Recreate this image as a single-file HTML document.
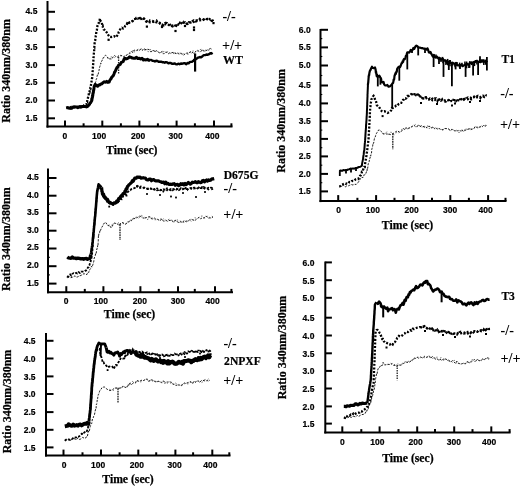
<!DOCTYPE html>
<html><head><meta charset="utf-8"><title>Ratio 340nm/380nm</title><style>
html,body{margin:0;padding:0;background:#fff;}
body{width:520px;height:486px;overflow:hidden;}
svg{display:block;}
svg{will-change:transform;}
.tk{font-family:"Liberation Sans", sans-serif;font-weight:bold;font-size:8.5px;fill:#000;stroke:#000;stroke-width:0.2px;}
.tt{font-family:"Liberation Serif", serif;font-weight:bold;font-size:11.7px;fill:#000;stroke:#000;stroke-width:0.25px;}
.rt{font-family:"Liberation Serif", serif;font-weight:bold;font-size:12px;fill:#000;stroke:#000;stroke-width:0.25px;}
.lg{font-family:"Liberation Serif", serif;font-weight:bold;font-size:11.6px;fill:#000;stroke:#000;stroke-width:0.2px;}
.pm{font-family:"Liberation Serif", serif;font-weight:bold;font-size:14.2px;fill:#000;}
.wt{font-family:"Liberation Serif", serif;font-weight:bold;font-size:12px;fill:#000;stroke:#000;stroke-width:0.2px;}
</style></head>
<body>
<svg width="520" height="486" viewBox="0 0 520 486">
<rect width="520" height="486" fill="#fff"/>
<line x1="47.5" y1="1" x2="47.5" y2="127.6" stroke="#000" stroke-width="2"/>
<line x1="46.5" y1="126.6" x2="232.5" y2="126.6" stroke="#000" stroke-width="2"/>
<line x1="47.5" y1="11.8" x2="55.0" y2="11.8" stroke="#000" stroke-width="2"/>
<text x="37.4" y="14.2" text-anchor="end" class="tk">4.5</text>
<line x1="47.5" y1="29.3" x2="55.0" y2="29.3" stroke="#000" stroke-width="2"/>
<text x="37.4" y="31.7" text-anchor="end" class="tk">4.0</text>
<line x1="47.5" y1="47.1" x2="55.0" y2="47.1" stroke="#000" stroke-width="2"/>
<text x="37.4" y="49.5" text-anchor="end" class="tk">3.5</text>
<line x1="47.5" y1="65.1" x2="55.0" y2="65.1" stroke="#000" stroke-width="2"/>
<text x="37.4" y="67.5" text-anchor="end" class="tk">3.0</text>
<line x1="47.5" y1="82.8" x2="55.0" y2="82.8" stroke="#000" stroke-width="2"/>
<text x="37.4" y="85.2" text-anchor="end" class="tk">2.5</text>
<line x1="47.5" y1="100.5" x2="55.0" y2="100.5" stroke="#000" stroke-width="2"/>
<text x="37.4" y="102.9" text-anchor="end" class="tk">2.0</text>
<line x1="47.5" y1="118.3" x2="55.0" y2="118.3" stroke="#000" stroke-width="2"/>
<text x="37.4" y="120.7" text-anchor="end" class="tk">1.5</text>
<line x1="65.0" y1="120.6" x2="65.0" y2="126.6" stroke="#000" stroke-width="2"/>
<line x1="83.6" y1="123.3" x2="83.6" y2="126.6" stroke="#000" stroke-width="2"/>
<line x1="102.3" y1="120.6" x2="102.3" y2="126.6" stroke="#000" stroke-width="2"/>
<line x1="120.9" y1="123.3" x2="120.9" y2="126.6" stroke="#000" stroke-width="2"/>
<line x1="139.4" y1="120.6" x2="139.4" y2="126.6" stroke="#000" stroke-width="2"/>
<line x1="157.9" y1="123.3" x2="157.9" y2="126.6" stroke="#000" stroke-width="2"/>
<line x1="176.6" y1="120.6" x2="176.6" y2="126.6" stroke="#000" stroke-width="2"/>
<line x1="194.9" y1="123.3" x2="194.9" y2="126.6" stroke="#000" stroke-width="2"/>
<line x1="214.0" y1="120.6" x2="214.0" y2="126.6" stroke="#000" stroke-width="2"/>
<line x1="231.4" y1="123.3" x2="231.4" y2="126.6" stroke="#000" stroke-width="2"/>
<text x="64.9" y="139.0" text-anchor="middle" class="tk">0</text>
<text x="99.1" y="139.0" text-anchor="middle" class="tk">100</text>
<text x="138.2" y="139.0" text-anchor="middle" class="tk">200</text>
<text x="175.7" y="139.0" text-anchor="middle" class="tk">300</text>
<text x="212.3" y="139.0" text-anchor="middle" class="tk">400</text>
<text x="131.8" y="153.6" text-anchor="middle" class="tt">Time (sec)</text>
<text transform="translate(9.6,70.8) rotate(-90)" text-anchor="middle" class="rt">Ratio 340nm/380nm</text>
<text x="222.4" y="20.8" class="pm">-/-</text>
<text x="222.1" y="50.1" class="pm">+/+</text>
<text x="223" y="63.6" class="wt">WT</text>
<polyline points="66.5,108.5 68.0,108.3 69.5,108.4 71.0,109.3 72.5,108.0 74.0,108.0 75.5,108.1 77.0,106.9 78.5,107.6 80.0,107.8 81.5,108.0 83.0,105.9 84.5,106.2 86.0,105.4 87.5,107.1 89.0,106.5 89.4,103.4 89.8,104.5 90.1,103.1 90.5,100.9 90.9,99.4 91.2,96.9 91.6,95.1 92.0,95.1 92.4,92.4 92.8,91.2 93.2,89.8 93.7,87.8 94.1,87.4 94.5,85.8 94.9,85.3 95.3,82.8 95.8,81.6 96.2,79.6 96.6,78.7 97.0,76.7 97.4,74.9 97.8,75.4 98.2,74.0 98.6,72.3 99.0,70.5 99.4,68.1 99.9,66.4 100.3,65.2 100.7,63.2 101.1,63.5 101.6,61.2 102.0,60.9 102.7,58.2 103.5,58.1 104.2,56.3 105.6,55.2 107.0,56.7 108.5,59.2 110.0,58.7 111.5,59.3 113.1,57.0 114.6,55.4 116.0,56.8 117.5,57.2 119.0,55.9 120.4,55.4 122.1,55.8 123.8,57.2 125.6,56.3 127.3,54.4 128.7,53.8 130.1,52.5 131.4,51.5 132.8,52.5 134.2,50.0 135.6,50.7 137.0,50.2 138.3,49.3 139.7,50.4 141.1,48.6 142.7,50.1 144.3,48.8 146.0,49.8 147.6,49.3 149.2,49.6 150.6,51.7 152.1,51.5 153.5,50.5 154.9,52.2 156.3,50.7 157.8,51.5 159.2,52.9 160.6,52.6 162.1,51.5 163.5,54.1 165.1,52.2 166.7,52.4 168.2,53.9 169.8,52.8 171.4,52.9 173.0,52.4 174.5,52.5 176.0,53.9 177.5,53.1 179.1,54.1 180.6,53.6 182.1,53.9 183.6,55.3 185.2,53.7 186.8,53.6 188.3,54.1 189.9,51.9 191.5,51.5 193.1,53.2 194.6,52.6 196.2,50.9 197.7,50.4 199.2,51.6 200.7,51.8 202.3,49.6 203.8,51.3 205.4,51.0 207.0,50.1 208.7,49.5 210.3,48.5 211.9,49.4" fill="none" stroke="#1a1a1a" stroke-width="1.0" stroke-dasharray="2.2 1.3"/>
<polyline points="107.0,57.5 108.5,57.7 110.0,57.1 111.5,56.9 113.1,57.1 114.6,57.5 116.0,56.3 117.5,56.5 119.0,55.3 120.4,56.4 121.8,55.5 123.2,57.1 124.5,55.4 125.9,56.0 127.3,54.0 128.4,53.6 129.6,53.6 130.8,53.3 131.9,52.3 133.0,49.8 134.2,52.0 135.6,51.7 137.0,50.4 138.3,50.7 139.7,49.9 141.1,48.4 142.4,50.5 143.8,48.3 145.1,51.5 146.5,49.0 147.8,51.4 149.2,51.9 150.5,49.1 151.8,51.4 153.1,49.4 154.4,50.8 155.7,50.5 157.0,50.5 158.3,51.9 159.6,53.4 160.9,52.2 162.2,51.0 163.5,51.6 164.9,51.6 166.2,51.7 167.6,51.8 168.9,52.1 170.3,53.4 171.6,52.5 173.0,52.4 174.3,55.0 175.7,52.0 177.0,53.5 178.3,52.2 179.6,52.8 180.9,53.3 182.3,52.7 183.6,54.0 185.0,53.6 186.3,52.8 187.7,52.7 189.0,52.4 190.4,52.5 191.7,53.3 193.1,50.7 194.4,53.6 195.8,52.6 197.1,51.8 198.4,49.6 199.8,49.6 201.1,49.5 202.5,48.7 203.8,51.9 205.2,50.2 206.5,49.5 207.9,49.8 209.2,50.7 210.6,48.5 211.9,49.4" fill="none" stroke="#333" stroke-width="0.8" stroke-dasharray="1.6 2.2" opacity="0.85"/>
<line x1="118.6" y1="57.0" x2="118.6" y2="73.8" stroke="#222" stroke-width="1.3" stroke-dasharray="1.6 0.9"/>
<polyline points="66.5,107.6 67.7,107.5 68.9,107.7 70.1,107.6 71.4,106.7 72.6,106.4 73.8,106.9 75.0,106.6 76.3,107.3 77.6,107.0 78.9,106.6 80.2,106.4 81.5,106.4 82.8,105.4 84.1,105.7 85.3,104.3 86.5,104.4 86.8,101.9 87.1,101.9 87.4,99.5 87.7,99.3 88.0,97.5 88.3,96.4 88.6,95.9 88.9,93.4 89.2,92.2 89.5,92.3 89.8,90.4 90.2,88.4 90.5,88.6 90.8,87.2 91.0,84.7 91.2,84.0 91.4,82.3 91.5,81.4 91.7,80.7 91.9,78.8 92.1,78.4 92.3,76.2 92.4,75.1 92.5,74.9 92.5,72.9 92.6,71.7 92.7,70.7 92.8,69.3 92.9,67.9 93.0,66.0 93.0,65.9 93.1,65.0 93.2,63.8 93.3,62.1 93.4,60.4 93.5,59.2 93.5,58.5 93.6,57.2 93.7,55.1 93.8,54.1 93.9,53.1 94.0,52.2 94.1,51.4 94.2,49.7 94.2,47.8 94.3,47.8 94.4,46.0 94.5,44.9 94.6,43.3 94.8,42.3 95.0,41.0 95.2,40.4 95.4,38.1 95.6,37.6 95.8,35.7 96.0,35.3 96.2,33.0 96.4,32.1 96.6,30.9 96.9,30.1 97.1,27.9 97.3,27.2 97.5,25.5 97.9,24.5 98.3,23.7 98.7,23.3 99.1,21.4 99.5,21.0 99.9,18.6 100.5,21.1 101.2,21.5 101.8,22.5 102.1,24.6 102.4,26.2 102.7,26.0 103.0,27.6 103.7,29.4 104.3,29.7 105.0,30.6 106.0,31.5 107.0,32.8 108.2,34.9 109.5,36.8 111.2,37.0 113.0,36.5 114.2,36.2 115.5,37.2 116.4,36.7 117.3,35.4 118.2,33.8 118.8,31.9 119.4,31.1 120.0,29.7 120.6,28.7 121.9,27.8 123.1,28.5 124.4,28.1 125.1,26.0 125.8,25.2 126.6,25.1 127.3,23.1 128.6,23.5 129.9,22.2 131.2,21.8 132.6,20.9 134.0,19.1 135.2,18.9 136.3,18.4 137.5,18.7 138.7,18.3 140.0,17.6 141.2,19.0 142.5,18.5 143.8,18.4 145.0,19.7 146.1,21.6 147.3,21.9 148.6,21.9 149.9,22.3 151.2,22.2 152.5,21.8 153.8,21.4 155.1,21.7 156.4,22.3 157.7,22.3 158.8,22.6 159.8,22.9 160.9,23.5 162.0,24.8 163.3,24.4 164.6,23.4 165.9,24.4 167.2,24.6 168.6,24.9 170.1,25.5 171.5,26.0 172.7,25.5 173.9,26.1 175.1,25.6 176.3,25.4 177.5,25.0 178.7,24.2 180.0,24.5 181.2,23.3 182.4,22.4 183.7,22.8 185.0,22.3 186.3,23.3 187.6,23.9 188.8,23.1 190.0,22.5 191.2,22.4 192.4,21.9 193.6,22.1 194.8,20.9 196.0,20.5 197.3,20.5 198.5,20.8 199.7,20.5 201.1,20.2 202.5,20.4 203.8,19.3 205.2,18.6 206.6,19.2 207.9,19.2 209.2,18.9 210.5,19.8 211.8,19.4 212.7,20.4 213.5,22.0" fill="none" stroke="#000" stroke-width="2.3" stroke-dasharray="2 1.5"/>
<polyline points="127.3,23.5 128.6,22.8 129.9,22.7 131.2,21.9 132.6,21.2 134.0,20.9 135.2,20.0 136.3,17.7 137.5,17.5 138.7,17.9 140.0,17.8 141.2,19.9 142.5,19.3 143.8,18.7 145.0,19.3 146.1,19.9 147.3,22.1 148.6,23.1 149.9,20.5 151.2,21.3 152.5,20.9 153.8,21.9 155.1,20.8 156.4,20.3 157.7,22.4 158.8,21.8 159.8,23.6 160.9,25.1 162.0,24.7 163.3,25.6 164.6,25.2 165.9,22.7 167.2,23.2 168.6,25.0 170.1,24.8 171.5,23.7 172.7,26.5 173.9,26.1 175.1,25.6 176.3,26.1 177.5,24.2 178.7,24.7 180.0,22.6 181.2,23.6 182.4,23.7 183.7,21.7 185.0,22.2 186.3,23.5 187.6,24.8 188.8,22.2 190.0,22.5 191.2,22.9 192.4,21.1 193.6,20.4 194.8,22.3 196.0,21.5 197.3,21.0 198.5,20.6 199.7,18.8 201.1,19.9 202.5,19.7 203.8,19.6 205.2,18.3 206.6,17.8 207.9,19.4 209.2,20.1 210.5,20.1 211.8,21.1 212.7,20.4 213.5,22.0" fill="none" stroke="#000" stroke-width="2.0" stroke-dasharray="2.2 2.5"/>
<rect x="145.8" y="25.5" width="2.2" height="2.2" fill="#000"/>
<rect x="174.4" y="29.9" width="2.2" height="2.2" fill="#000"/>
<rect x="192.9" y="26.4" width="2.2" height="2.2" fill="#000"/>
<rect x="192.9" y="28.9" width="2.2" height="2.2" fill="#000"/>
<rect x="107.5" y="38.7" width="2.2" height="2.2" fill="#000"/>
<rect x="212.4" y="22.0" width="2.2" height="2.2" fill="#000"/>
<rect x="160.9" y="25.9" width="2.2" height="2.2" fill="#000"/>
<rect x="183.9" y="24.9" width="2.2" height="2.2" fill="#000"/>
<polyline points="66.3,108.2 67.6,107.7 68.9,108.2 70.3,108.1 71.6,108.3 72.9,107.1 74.2,107.1 75.4,106.9 76.7,106.9 78.0,107.7 79.3,106.6 80.8,107.1 82.2,106.5 83.6,106.5 85.1,106.6 86.4,106.9 87.6,106.3 88.9,105.0 89.5,104.3 90.1,102.9 90.6,102.9 91.2,101.7 91.8,100.5 92.0,99.2 92.3,97.8 92.5,96.9 92.8,95.3 93.0,93.2 93.3,92.9 93.5,90.8 93.8,89.8 94.0,88.1 94.2,86.4 95.2,84.4 96.4,85.4 97.6,86.2 98.6,85.0 99.5,85.1 100.5,84.2 101.8,83.8 103.0,82.7 104.3,81.8 105.5,82.2 106.7,81.4 107.9,82.4 109.1,82.1 109.7,80.5 110.4,79.5 111.0,78.8 111.8,77.1 112.7,76.2 113.5,75.2 114.1,73.7 114.6,72.1 115.2,71.5 115.8,70.0 116.3,68.8 116.9,67.6 117.8,66.7 118.7,65.1 119.5,64.9 120.4,64.2 121.3,62.4 122.2,62.0 123.2,61.4 124.1,59.0 125.0,58.2 126.2,58.9 127.3,58.6 128.4,57.9 129.6,56.8 131.0,57.3 132.4,58.1 133.7,58.2 135.1,58.2 136.5,57.3 137.9,58.6 139.3,58.2 140.6,59.0 142.0,58.3 143.4,60.0 144.7,59.6 146.0,60.0 147.4,59.3 148.7,60.2 150.0,60.2" fill="none" stroke="#000" stroke-width="3" stroke-linejoin="round"/>
<polyline points="150.0,60.2 151.2,59.9 152.5,60.8 153.7,60.9 154.9,61.5 156.1,60.8 157.4,61.0 158.6,61.8 159.8,61.8 161.0,61.6 162.3,62.2 163.5,62.1 164.7,62.7 165.9,62.1 167.2,62.4 168.4,63.4 169.6,62.9 170.8,63.0 172.0,63.8 173.2,63.8 174.5,63.4 175.7,64.1 176.9,64.4 178.2,63.7 179.6,64.2 180.9,63.5 182.3,63.7 183.6,63.3 185.0,63.3 186.3,64.2 187.4,63.0 188.6,63.3 189.7,62.2 190.8,61.9 192.0,61.8 193.1,61.1 194.2,59.6 195.4,59.4 196.5,58.7 198.2,57.6 199.8,57.0 201.1,57.3 202.5,56.2 203.8,55.1 205.2,55.1 206.5,54.5 207.8,54.8 209.2,54.1 210.3,53.2 211.5,53.6 212.6,52.8" fill="none" stroke="#000" stroke-width="2.4" stroke-linejoin="round"/>
<line x1="195.1" y1="59.5" x2="195.1" y2="71.6" stroke="#000" stroke-width="2.2"/>
<line x1="195.1" y1="59.5" x2="195.1" y2="53.5" stroke="#000" stroke-width="2.2"/>
<line x1="48" y1="168.6" x2="48" y2="293.2" stroke="#000" stroke-width="2"/>
<line x1="47" y1="292.2" x2="233" y2="292.2" stroke="#000" stroke-width="2"/>
<line x1="48" y1="178" x2="56.5" y2="178" stroke="#000" stroke-width="2"/>
<text x="38.8" y="179.9" text-anchor="end" class="tk">4.5</text>
<line x1="48" y1="195.7" x2="56.5" y2="195.7" stroke="#000" stroke-width="2"/>
<text x="38.8" y="197.6" text-anchor="end" class="tk">4.0</text>
<line x1="48" y1="213.3" x2="56.5" y2="213.3" stroke="#000" stroke-width="2"/>
<text x="38.8" y="215.2" text-anchor="end" class="tk">3.5</text>
<line x1="48" y1="230.7" x2="56.5" y2="230.7" stroke="#000" stroke-width="2"/>
<text x="38.8" y="232.6" text-anchor="end" class="tk">3.0</text>
<line x1="48" y1="248.5" x2="56.5" y2="248.5" stroke="#000" stroke-width="2"/>
<text x="38.8" y="250.4" text-anchor="end" class="tk">2.5</text>
<line x1="48" y1="266.2" x2="56.5" y2="266.2" stroke="#000" stroke-width="2"/>
<text x="38.8" y="268.1" text-anchor="end" class="tk">2.0</text>
<line x1="48" y1="283.6" x2="56.5" y2="283.6" stroke="#000" stroke-width="2"/>
<text x="38.8" y="285.5" text-anchor="end" class="tk">1.5</text>
<line x1="48" y1="186.8" x2="49.8" y2="186.8" stroke="#000" stroke-width="1.1"/>
<line x1="48" y1="204.5" x2="49.8" y2="204.5" stroke="#000" stroke-width="1.1"/>
<line x1="48" y1="222.0" x2="49.8" y2="222.0" stroke="#000" stroke-width="1.1"/>
<line x1="48" y1="239.6" x2="49.8" y2="239.6" stroke="#000" stroke-width="1.1"/>
<line x1="48" y1="257.4" x2="49.8" y2="257.4" stroke="#000" stroke-width="1.1"/>
<line x1="48" y1="274.9" x2="49.8" y2="274.9" stroke="#000" stroke-width="1.1"/>
<line x1="66.3" y1="286.2" x2="66.3" y2="292.2" stroke="#000" stroke-width="2"/>
<line x1="84.8" y1="288.9" x2="84.8" y2="292.2" stroke="#000" stroke-width="2"/>
<line x1="103.4" y1="286.2" x2="103.4" y2="292.2" stroke="#000" stroke-width="2"/>
<line x1="122.1" y1="288.9" x2="122.1" y2="292.2" stroke="#000" stroke-width="2"/>
<line x1="140.4" y1="286.2" x2="140.4" y2="292.2" stroke="#000" stroke-width="2"/>
<line x1="158.8" y1="288.9" x2="158.8" y2="292.2" stroke="#000" stroke-width="2"/>
<line x1="178.0" y1="286.2" x2="178.0" y2="292.2" stroke="#000" stroke-width="2"/>
<line x1="194.8" y1="288.9" x2="194.8" y2="292.2" stroke="#000" stroke-width="2"/>
<line x1="215.0" y1="286.2" x2="215.0" y2="292.2" stroke="#000" stroke-width="2"/>
<line x1="231.4" y1="288.9" x2="231.4" y2="292.2" stroke="#000" stroke-width="2"/>
<text x="66.2" y="304.4" text-anchor="middle" class="tk">0</text>
<text x="100.8" y="304.4" text-anchor="middle" class="tk">100</text>
<text x="139.8" y="304.4" text-anchor="middle" class="tk">200</text>
<text x="177.9" y="304.4" text-anchor="middle" class="tk">300</text>
<text x="212.7" y="304.4" text-anchor="middle" class="tk">400</text>
<text x="129.55" y="318.4" text-anchor="middle" class="tt">Time (sec)</text>
<text transform="translate(10.2,239.2) rotate(-90)" text-anchor="middle" class="rt">Ratio 340nm/380nm</text>
<text x="223.7" y="178.9" class="lg">D675G</text>
<text x="223.5" y="192.8" class="pm">-/-</text>
<text x="223.3" y="219.4" class="pm">+/+</text>
<polyline points="67.8,277.7 69.2,276.6 70.7,277.7 72.1,277.4 73.5,276.7 75.0,275.8 76.4,277.1 77.9,276.8 79.4,275.8 80.9,275.5 82.5,274.5 84.0,273.6 85.5,274.3 87.0,274.5 88.0,271.9 88.9,272.4 89.8,269.6 90.8,268.3 91.5,266.2 92.1,267.1 92.8,264.8 93.3,263.5 93.8,261.2 94.2,258.0 94.7,257.1 95.2,255.8 95.7,253.2 96.1,253.7 96.6,250.5 96.9,248.5 97.3,248.7 97.7,245.5 98.0,246.1 98.1,243.4 98.2,242.2 98.3,240.2 98.3,239.1 98.4,236.9 98.5,235.1 98.6,235.8 99.1,232.8 99.6,232.8 100.0,230.0 100.5,230.6 101.0,229.0 101.8,227.3 102.7,225.9 103.6,224.0 104.4,223.0 105.6,222.3 106.8,224.1 108.0,225.9 109.5,225.1 111.0,227.8 112.1,226.6 113.2,224.3 114.3,223.0 115.7,223.5 117.2,223.6 118.6,225.4 120.0,224.0 121.5,222.7 123.0,222.6 124.4,223.8 125.9,224.2 127.4,222.6 128.7,221.8 130.0,221.1 131.4,220.8 132.7,218.6 134.0,218.8 135.6,218.1 137.1,217.8 138.7,216.1 140.1,216.2 141.6,216.8 143.0,218.4 144.5,217.1 145.9,217.9 147.3,217.2 148.8,216.9 150.2,216.9 151.7,219.0 153.1,219.0 154.6,218.1 156.0,219.1 157.4,219.3 158.9,220.1 160.3,220.4 161.8,219.2 163.2,221.0 164.7,221.1 166.1,220.4 167.5,221.3 169.0,220.5 170.4,220.4 171.9,220.3 173.3,222.2 174.8,220.4 176.3,220.3 177.8,222.3 179.4,222.3 180.9,221.7 182.4,222.7 183.9,220.7 185.4,221.4 186.8,221.0 188.2,221.0 189.5,219.9 190.9,219.2 192.3,219.5 193.7,220.5 195.1,220.3 196.4,219.3 197.8,218.2 199.2,217.2 200.7,218.9 202.3,217.7 203.8,218.1 205.3,216.2 206.9,216.6 208.4,218.1 209.9,217.9 211.5,218.0 213.0,216.9" fill="none" stroke="#1a1a1a" stroke-width="1.0" stroke-dasharray="2.2 1.3"/>
<polyline points="108.0,225.0 109.5,226.0 111.0,225.5 112.1,224.7 113.2,223.6 114.3,223.1 115.7,223.4 117.2,223.5 118.6,222.7 120.0,225.4 121.5,223.1 123.0,223.3 124.4,224.1 125.9,224.4 127.4,220.9 128.7,222.3 130.0,220.0 131.4,220.5 132.7,218.8 134.0,217.1 135.6,217.4 137.1,217.0 138.7,218.3 140.0,216.6 141.4,215.4 142.7,216.1 144.0,217.2 145.4,219.2 146.7,219.4 148.0,219.4 149.3,216.5 150.7,218.1 152.0,217.4 153.3,219.5 154.7,219.7 156.0,219.7 157.3,220.5 158.7,219.7 160.0,220.8 161.3,217.7 162.7,219.4 164.0,218.3 165.3,219.6 166.6,221.0 168.0,219.8 169.3,219.1 170.6,219.2 172.0,220.6 173.3,220.1 174.6,221.9 176.0,221.1 177.3,219.7 178.7,223.0 180.0,220.3 181.4,222.6 182.7,222.2 184.1,222.3 185.4,220.6 186.7,222.8 187.9,221.4 189.2,219.5 190.4,220.6 191.7,221.6 192.9,221.3 194.2,217.6 195.4,217.9 196.7,218.9 197.9,218.3 199.2,216.8 200.6,216.3 202.0,216.0 203.3,216.1 204.7,218.6 206.1,217.5 207.5,215.8 208.9,216.8 210.2,217.9 211.6,216.1 213.0,216.9" fill="none" stroke="#333" stroke-width="0.8" stroke-dasharray="1.6 2.2" opacity="0.85"/>
<line x1="120" y1="224.3" x2="120" y2="240" stroke="#222" stroke-width="1.3" stroke-dasharray="1.6 0.9"/>
<polyline points="66.8,276.7 67.9,276.9 69.0,275.2 70.2,274.5 71.3,275.6 72.4,273.8 73.5,273.2 74.8,273.7 76.1,272.9 77.3,273.5 78.6,272.1 79.9,273.0 81.2,271.6 82.5,271.6 83.8,271.7 85.1,270.8 86.1,270.4 87.0,269.2 88.0,267.4 88.7,267.3 89.4,265.3 89.9,263.4 90.4,261.8 90.7,261.6 90.9,260.0 91.2,259.4 91.5,257.9 91.7,257.0 92.0,255.1 92.1,254.1 92.2,252.7 92.3,250.9 92.4,250.7 92.5,248.4 92.6,247.9 92.7,247.0 92.8,245.2 92.8,243.2 92.9,243.0 93.0,241.5 93.1,239.5 93.2,238.0 93.3,237.6 93.4,235.5 93.5,235.7 93.6,233.8 93.7,232.5 93.8,231.1 93.9,230.3 94.0,229.4 94.1,227.2 94.2,226.0 94.3,225.1 94.4,223.4 94.5,222.7 94.6,221.3 94.7,219.9 94.8,219.0 94.9,217.5 95.0,215.6 95.1,215.8 95.2,213.5 95.3,212.4 95.4,211.1 95.5,210.7 95.6,209.5 95.8,207.5 95.9,206.1 96.0,204.4 96.1,204.4 96.2,202.0 96.4,201.3 96.5,199.8 96.6,198.5 96.8,197.3 96.9,195.8 97.0,194.3 97.1,193.8 97.2,193.0 97.4,191.5 97.5,189.5 98.0,189.0 98.5,186.6 99.0,185.9 99.7,187.5 100.3,188.7 101.0,188.9 101.3,190.7 101.7,191.3 102.0,192.5 102.3,193.8 102.7,195.6 103.0,196.4 103.8,197.0 104.7,198.5 105.5,199.5 106.3,200.1 107.2,201.9 108.0,203.0 109.3,203.3 110.7,204.5 112.1,203.6 113.4,205.0 114.6,204.4 115.7,203.1 116.9,202.1 118.0,202.1 119.2,200.9 120.0,199.8 120.8,198.5 121.7,199.1 122.5,197.3 123.3,196.0 124.2,195.3 125.0,194.5 125.8,194.6 126.9,192.6 128.1,191.8 129.2,190.6 130.3,190.3 131.4,189.1 132.6,188.5 133.7,188.3 134.9,187.9 136.0,186.9 137.2,185.9 138.4,186.6 139.6,187.6 140.8,186.5 142.0,186.9 143.2,187.6 144.5,187.6 145.8,188.5 147.1,188.6 148.4,188.5 149.7,188.4 151.0,188.6 152.2,188.8 153.4,188.6 154.6,189.7 155.9,189.0 157.1,190.3 158.3,190.1 159.5,189.3 160.8,190.0 162.0,190.1 163.2,189.2 164.5,189.8 165.8,189.1 167.0,190.2 168.3,188.9 169.5,189.8 170.8,190.3 172.0,190.0 173.3,188.9 174.5,189.3 175.8,188.6 177.1,188.9 178.4,189.6 179.7,189.5 181.0,188.1 182.4,188.6 183.7,188.9 185.0,188.1 186.3,189.0 187.6,189.1 188.9,188.5 190.1,188.1 191.3,188.8 192.6,188.2 193.8,187.6 195.0,187.7 196.2,187.5 197.5,188.5 198.7,187.9 199.9,188.1 201.2,188.2 202.4,188.4 203.6,187.1 204.8,187.5 206.1,188.4 207.3,188.3 208.5,187.8 209.7,188.3 210.9,187.7 212.2,187.8 213.4,188.4" fill="none" stroke="#000" stroke-width="1.8" stroke-dasharray="2.4 1.4"/>
<polyline points="136.0,186.4 137.2,186.6 138.4,187.1 139.6,186.3 140.8,188.7 142.0,188.2 143.2,188.5 144.5,187.7 145.8,189.3 147.1,189.1 148.4,188.9 149.7,187.3 151.0,188.8 152.2,190.8 153.4,189.5 154.6,189.0 155.9,190.0 157.1,188.4 158.3,189.2 159.5,191.0 160.8,189.9 162.0,189.5 163.2,191.6 164.5,189.9 165.8,189.7 167.0,188.3 168.3,190.1 169.5,189.6 170.8,188.8 172.0,191.0 173.3,189.8 174.5,189.4 175.8,190.5 177.1,188.7 178.4,190.8 179.7,189.6 181.0,188.5 182.4,188.6 183.7,190.4 185.0,189.0 186.3,186.8 187.6,189.7 188.9,188.1 190.1,187.6 191.3,188.2 192.6,187.1 193.8,188.7 195.0,188.5 196.2,187.9 197.5,187.9 198.7,187.3 199.9,188.5 201.2,188.9 202.4,186.0 203.6,188.1 204.8,188.8 206.1,189.6 207.3,188.9 208.5,189.6 209.7,188.6 210.9,189.5 212.2,189.2 213.4,188.4" fill="none" stroke="#000" stroke-width="1.6" stroke-dasharray="2 2.6"/>
<rect x="108.3" y="205.7" width="1.8" height="1.8" fill="#000"/>
<rect x="125.6" y="194.7" width="1.8" height="1.8" fill="#000"/>
<rect x="146.1" y="193.1" width="1.8" height="1.8" fill="#000"/>
<rect x="159.1" y="194.1" width="1.8" height="1.8" fill="#000"/>
<rect x="170.1" y="195.6" width="1.8" height="1.8" fill="#000"/>
<rect x="175.1" y="196.6" width="1.8" height="1.8" fill="#000"/>
<rect x="195.1" y="196.1" width="1.8" height="1.8" fill="#000"/>
<rect x="182.1" y="192.1" width="1.8" height="1.8" fill="#000"/>
<rect x="204.1" y="191.1" width="1.8" height="1.8" fill="#000"/>
<polyline points="67.3,257.0 68.5,257.9 69.8,258.1 71.0,258.2 72.3,257.1 73.5,258.1 75.0,258.1 76.4,258.5 77.8,258.1 79.3,258.4 80.8,258.9 82.2,258.7 83.6,259.2 85.1,258.6 86.3,258.5 87.5,259.3 88.7,258.6 89.9,258.5 90.2,257.6 90.5,255.7 90.8,254.6" fill="none" stroke="#000" stroke-width="3.4" stroke-linejoin="round"/>
<polyline points="90.8,254.6 91.0,253.5 91.2,252.4 91.4,250.8 91.5,250.1 91.7,248.4 91.9,247.5 92.1,246.0 92.3,245.2 92.4,243.5 92.5,242.6 92.7,241.4 92.8,240.2 92.9,238.7 93.0,237.7 93.2,236.5 93.3,234.8 93.4,233.8 93.5,232.8 93.7,231.4 93.8,230.0 93.9,228.7 94.0,227.9 94.1,226.2 94.3,225.4 94.4,224.2 94.5,222.6 94.6,221.5 94.7,220.3 94.8,219.2 94.9,217.9 95.0,217.0 95.2,215.9 95.3,214.3 95.4,213.4 95.5,211.7 95.6,210.5 95.7,209.6 95.8,208.4 95.9,207.2 96.0,206.0 96.1,204.7 96.2,203.1 96.3,202.1 96.4,201.0 96.5,199.3 96.6,198.2 96.7,196.8 96.8,195.5 96.9,194.5 97.0,193.4 97.1,192.3 97.3,190.5 97.6,189.5 97.8,188.5 98.1,187.2 98.3,185.8 98.6,184.3 99.6,185.5 100.5,186.3 101.5,187.4" fill="none" stroke="#000" stroke-width="2.6" stroke-linejoin="round"/>
<polyline points="101.5,187.4 101.7,188.3 101.9,190.6 102.0,191.6 102.2,191.5 102.4,193.9 103.0,194.4 103.6,194.2 104.1,197.0 104.7,196.6 105.3,197.6 106.1,198.6 106.9,199.7 107.6,199.5 108.4,201.4 109.2,202.5 110.2,202.3 111.1,203.3 112.0,203.5 113.0,204.3 114.0,202.8 114.9,202.8 115.9,202.7 116.6,201.2 117.3,202.1 118.0,200.6 118.6,198.7 119.3,198.8 120.0,197.7 120.7,196.4 121.5,195.5 122.2,195.2 123.0,193.6 123.7,193.7 124.5,192.7 125.0,191.1 125.5,191.7 126.0,189.1 126.5,188.4 126.9,188.8 127.4,186.7 127.9,186.2 128.4,185.6 129.2,184.6 130.0,183.9 130.8,183.1 131.6,182.3 132.4,180.6 133.2,181.3 134.0,179.5 134.7,178.2 135.5,178.2 136.2,178.2 137.0,177.1 138.0,177.0 139.1,177.4 140.1,177.1 141.1,178.2 142.2,178.0 143.2,177.7 144.2,178.0 145.3,178.1 146.3,179.4 147.3,180.0 148.4,179.9 149.4,179.0 150.5,179.0 151.5,180.7 152.5,179.7 153.6,179.5 154.6,180.4 155.6,180.8 156.6,180.9 157.6,180.9 158.6,180.9 159.6,181.5 160.6,181.7 161.7,182.4 162.7,182.2 163.7,182.2 164.7,183.7 165.7,182.2 166.7,183.8 167.7,183.3 168.8,184.3 169.9,184.3 171.0,184.2 172.1,184.5 173.1,183.9 174.2,183.7 175.3,185.3 176.4,184.5 177.5,184.4 178.6,185.6 179.7,185.0 180.8,183.7 181.9,184.5 182.9,183.6 184.0,184.8 185.1,183.4 186.2,184.6 187.3,183.7 188.3,182.5 189.3,183.1 190.3,184.1 191.3,183.4 192.3,182.2 193.3,182.5 194.4,182.2 195.4,181.7 196.4,182.6 197.4,182.7 198.4,181.6 199.4,182.1 200.4,182.6 201.4,182.5 202.4,180.8 203.4,180.4 204.4,181.9 205.5,180.6 206.5,180.0 207.5,181.1 208.5,179.8 209.6,180.4 210.8,180.0 211.9,178.9 213.1,178.9 214.2,178.6" fill="none" stroke="#000" stroke-width="3.2" stroke-linejoin="round"/>
<line x1="46" y1="333" x2="46" y2="456.6" stroke="#000" stroke-width="2"/>
<line x1="45" y1="455.6" x2="230.5" y2="455.6" stroke="#000" stroke-width="2"/>
<line x1="46" y1="340.8" x2="53.5" y2="340.8" stroke="#000" stroke-width="2"/>
<text x="35.6" y="343.9" text-anchor="end" class="tk">4.5</text>
<line x1="46" y1="358.5" x2="53.5" y2="358.5" stroke="#000" stroke-width="2"/>
<text x="35.6" y="361.6" text-anchor="end" class="tk">4.0</text>
<line x1="46" y1="376.4" x2="53.5" y2="376.4" stroke="#000" stroke-width="2"/>
<text x="35.6" y="379.5" text-anchor="end" class="tk">3.5</text>
<line x1="46" y1="394.0" x2="53.5" y2="394.0" stroke="#000" stroke-width="2"/>
<text x="35.6" y="397.1" text-anchor="end" class="tk">3.0</text>
<line x1="46" y1="412.1" x2="53.5" y2="412.1" stroke="#000" stroke-width="2"/>
<text x="35.6" y="415.2" text-anchor="end" class="tk">2.5</text>
<line x1="46" y1="429.8" x2="53.5" y2="429.8" stroke="#000" stroke-width="2"/>
<text x="35.6" y="432.9" text-anchor="end" class="tk">2.0</text>
<line x1="46" y1="447.4" x2="53.5" y2="447.4" stroke="#000" stroke-width="2"/>
<text x="35.6" y="450.5" text-anchor="end" class="tk">1.5</text>
<line x1="63.5" y1="449.6" x2="63.5" y2="455.6" stroke="#000" stroke-width="2"/>
<line x1="82.5" y1="452.3" x2="82.5" y2="455.6" stroke="#000" stroke-width="2"/>
<line x1="101.0" y1="449.6" x2="101.0" y2="455.6" stroke="#000" stroke-width="2"/>
<line x1="119.6" y1="452.3" x2="119.6" y2="455.6" stroke="#000" stroke-width="2"/>
<line x1="138.3" y1="449.6" x2="138.3" y2="455.6" stroke="#000" stroke-width="2"/>
<line x1="156.2" y1="452.3" x2="156.2" y2="455.6" stroke="#000" stroke-width="2"/>
<line x1="175.4" y1="449.6" x2="175.4" y2="455.6" stroke="#000" stroke-width="2"/>
<line x1="193.1" y1="452.3" x2="193.1" y2="455.6" stroke="#000" stroke-width="2"/>
<line x1="212.3" y1="449.6" x2="212.3" y2="455.6" stroke="#000" stroke-width="2"/>
<line x1="229.3" y1="452.3" x2="229.3" y2="455.6" stroke="#000" stroke-width="2"/>
<text x="64.2" y="467.9" text-anchor="middle" class="tk">0</text>
<text x="98.1" y="467.9" text-anchor="middle" class="tk">100</text>
<text x="136.9" y="467.9" text-anchor="middle" class="tk">200</text>
<text x="174.6" y="467.9" text-anchor="middle" class="tk">300</text>
<text x="210.4" y="467.9" text-anchor="middle" class="tk">400</text>
<text x="128.0" y="482.8" text-anchor="middle" class="tt">Time (sec)</text>
<text transform="translate(10.6,401.5) rotate(-90)" text-anchor="middle" class="rt">Ratio 340nm/380nm</text>
<text x="223.4" y="348.2" class="pm">-/-</text>
<text x="224.1" y="364.6" class="lg">2NPXF</text>
<text x="223.2" y="384.6" class="pm">+/+</text>
<polyline points="64.9,441.0 66.3,439.5 67.7,439.6 69.2,440.1 70.6,440.7 72.0,439.1 73.4,438.8 74.9,438.8 76.3,439.9 77.8,438.1 79.2,439.4 80.9,439.0 82.6,437.4 84.3,438.2 86.0,437.8 86.7,436.2 87.4,436.3 88.1,432.5 88.8,430.9 89.3,431.6 89.8,428.5 90.3,426.3 90.8,425.0 91.3,423.5 91.8,423.5 92.2,420.0 92.7,418.5 93.2,417.9 93.7,416.3 94.2,415.8 94.6,414.0 95.1,411.2 95.6,409.2 95.8,409.4 96.1,408.3 96.3,404.3 96.6,404.6 96.8,403.5 97.1,401.4 97.3,398.8 97.6,398.8 97.8,397.1 98.3,394.4 98.9,394.2 99.4,391.8 100.2,389.9 101.1,389.2 101.9,387.8 103.2,387.1 104.4,387.0 106.0,388.4 107.7,389.6 109.3,390.5 111.0,390.4 112.6,389.7 114.3,388.3 115.9,387.7 117.6,388.7 119.2,388.2 120.9,388.2 122.5,386.4 124.2,386.3 125.8,387.9 127.1,386.2 128.5,385.6 129.8,383.2 131.2,383.1 132.5,383.6 133.9,382.5 135.4,383.1 136.8,380.6 138.2,381.0 139.6,381.5 141.1,380.2 142.5,380.8 144.1,380.3 145.6,379.3 147.2,379.3 148.8,381.8 150.3,379.6 151.9,380.0 153.4,380.4 155.0,381.6 156.6,382.1 158.1,381.3 159.7,381.6 161.2,382.5 162.8,381.4 164.4,381.8 165.9,382.6 167.5,382.9 168.9,381.6 170.3,382.0 171.7,382.4 173.1,384.2 174.4,384.4 175.8,385.4 177.2,385.1 178.6,384.1 180.0,385.7 181.4,386.0 182.8,384.1 184.2,382.9 185.6,383.6 186.9,383.0 188.3,382.5 189.7,381.9 191.1,381.8 192.5,383.4 194.0,381.1 195.4,382.4 196.9,381.1 198.3,380.9 199.8,382.3 201.2,380.7 202.7,380.2 204.2,380.7 205.6,381.1 207.1,380.5 208.5,381.1 210.0,380.0" fill="none" stroke="#1a1a1a" stroke-width="1.0" stroke-dasharray="2.2 1.3"/>
<polyline points="109.3,389.3 110.7,389.9 112.1,389.2 113.4,390.5 114.8,390.0 116.2,387.9 117.6,386.8 119.0,389.2 120.3,387.4 121.7,388.8 123.1,386.5 124.4,388.1 125.8,386.6 126.9,387.8 128.0,383.8 129.2,386.2 130.3,382.8 131.4,384.8 132.5,381.4 133.9,382.4 135.4,382.5 136.8,379.7 138.2,381.8 139.6,381.6 141.1,382.0 142.5,380.7 143.9,380.5 145.3,378.5 146.7,379.1 148.1,379.0 149.4,380.8 150.8,380.6 152.2,381.5 153.6,380.6 155.0,380.5 156.4,381.7 157.8,380.2 159.2,381.8 160.6,381.6 161.9,383.1 163.3,380.4 164.7,384.0 166.1,381.4 167.5,381.7 168.9,382.2 170.3,383.2 171.7,382.7 173.1,384.7 174.4,382.5 175.8,383.1 177.2,384.5 178.6,385.6 180.0,384.2 181.4,384.8 182.8,384.3 184.2,384.7 185.6,382.7 186.9,383.8 188.3,384.0 189.7,382.1 191.1,382.3 192.5,384.1 193.8,381.7 195.2,381.6 196.5,381.4 197.9,380.6 199.2,382.1 200.6,382.7 201.9,382.8 203.3,380.3 204.6,379.7 206.0,379.3 207.3,380.1 208.7,378.7 210.0,380.0" fill="none" stroke="#333" stroke-width="0.8" stroke-dasharray="1.6 2.2" opacity="0.85"/>
<line x1="118" y1="388.3" x2="118" y2="402.4" stroke="#222" stroke-width="1.3" stroke-dasharray="1.6 0.9"/>
<polyline points="64.8,440.8 66.1,439.7 67.5,439.5 68.8,439.3 70.2,439.8 71.5,438.8 72.6,438.7 73.8,437.2 74.9,437.4 76.0,437.5 77.2,436.5 78.3,436.7 79.5,436.1 80.7,434.8 81.9,433.7 83.1,434.4 84.2,432.6 85.3,431.6 86.4,432.0 86.9,431.0 87.4,429.9 87.9,429.0 88.1,426.6 88.4,425.3 88.6,424.1 88.8,424.3 89.0,421.8 89.3,420.6 89.5,419.2 89.6,418.0 89.7,416.8 89.8,416.0 89.9,414.5 90.0,413.4 90.1,413.2 90.2,410.7 90.3,410.5 90.4,409.1 90.5,407.6 90.6,406.4 90.7,405.4 90.8,403.9 90.9,402.1 91.0,401.0 91.1,399.6 91.2,398.6 91.3,398.3 91.4,396.1 91.5,394.3 91.6,393.7 91.7,393.0 91.8,391.2 91.9,390.3 92.0,388.1 92.1,386.8 92.2,386.5 92.3,384.3 92.4,383.4 92.5,382.3 92.6,380.8 92.7,379.3 92.8,378.0 92.9,378.2 93.0,376.6 93.1,375.7 93.2,373.7 93.3,373.2 93.4,371.8 93.5,370.2 93.7,368.8 93.8,367.5 94.0,365.8 94.2,364.8 94.3,364.1 94.5,362.0 94.7,361.8 94.8,360.0 95.0,358.9 95.2,358.0 95.3,356.5 95.5,354.4 95.8,353.4 96.2,351.9 96.5,350.7 96.8,351.1 97.2,349.3 97.5,348.8 99.4,348.9 99.7,349.5 99.9,351.8 100.2,353.0 100.4,353.6 100.7,354.2 100.9,355.9 101.3,356.8 101.7,358.3 102.0,359.0 102.4,361.1 102.8,362.7 103.6,362.4 104.4,364.3 105.2,364.9 106.4,365.7 107.6,367.4 109.3,366.5 111.0,367.2 112.4,366.7 113.8,368.9 114.8,366.6 115.7,365.1 116.7,365.4 117.5,363.9 118.3,362.5 119.1,361.4 119.9,359.8 120.7,358.4 121.5,357.8 123.0,358.6 124.4,358.4 125.2,356.1 126.0,355.5 126.8,354.4 127.6,354.1 128.4,351.7 129.2,352.0 130.0,350.0 131.3,350.7 132.7,350.2 134.0,350.3 135.3,351.7 136.7,351.3 138.0,352.3 139.3,352.3 140.7,352.3 142.0,351.5 143.3,352.5 144.6,353.4 146.0,352.8 147.3,352.3 148.5,352.7 149.8,354.2 151.0,354.4 152.3,353.5 153.5,353.8 154.8,354.6 156.0,354.5 157.2,354.2 158.5,355.6 159.7,355.2 160.9,354.9 162.1,354.5 163.4,355.5 164.6,356.0 165.9,355.0 167.1,354.8 168.4,355.7 169.6,355.9 170.9,355.0 172.1,355.1 173.4,355.2 174.6,355.0 175.9,354.3 177.1,354.4 178.4,354.2 179.6,354.0 180.8,353.5 182.1,353.7 183.3,353.2 184.5,354.0 185.7,352.9 186.9,353.6 188.2,353.1 189.4,352.0 190.6,351.5 191.8,352.1 193.0,351.9 194.2,351.9 195.4,351.1 196.6,351.7 197.9,352.0 199.1,351.4 200.3,351.0 201.5,352.0 202.7,350.9 203.9,351.9 205.2,351.3 206.4,350.1 207.6,350.7 208.8,350.1 210.1,351.0 211.3,350.4" fill="none" stroke="#000" stroke-width="1.8" stroke-dasharray="2.4 1.4"/>
<polyline points="124.4,357.6 125.2,356.3 126.0,355.2 126.8,355.8 127.6,354.8 128.4,351.8 129.2,352.5 130.0,351.9 131.3,351.7 132.7,349.2 134.0,352.5 135.3,350.4 136.7,352.3 138.0,350.4 139.3,352.0 140.7,351.6 142.0,352.7 143.3,353.2 144.6,353.7 146.0,353.8 147.3,354.2 148.5,353.6 149.8,353.5 151.0,354.5 152.3,354.2 153.5,355.0 154.8,353.9 156.0,356.0 157.2,355.9 158.5,353.8 159.7,355.9 160.9,355.3 162.1,355.6 163.4,356.4 164.6,356.2 165.9,356.1 167.1,356.7 168.4,354.2 169.6,353.9 170.9,354.5 172.1,354.7 173.4,353.8 174.6,353.5 175.9,354.8 177.1,355.9 178.4,355.6 179.6,354.3 180.8,355.4 182.1,354.2 183.3,353.9 184.5,352.0 185.7,352.6 186.9,352.5 188.2,351.3 189.4,351.9 190.6,352.4 191.8,350.7 193.0,351.2 194.2,352.7 195.4,351.4 196.6,352.1 197.9,350.5 199.1,350.5 200.3,352.3 201.5,352.1 202.7,349.9 203.9,351.5 205.2,351.8 206.4,351.7 207.6,351.5 208.8,351.6 210.1,350.1 211.3,350.4" fill="none" stroke="#000" stroke-width="1.6" stroke-dasharray="2 2.4"/>
<rect x="106.7" y="369.2" width="1.8" height="1.8" fill="#000"/>
<rect x="139.1" y="355.1" width="1.8" height="1.8" fill="#000"/>
<rect x="159.1" y="357.1" width="1.8" height="1.8" fill="#000"/>
<rect x="184.1" y="356.1" width="1.8" height="1.8" fill="#000"/>
<rect x="199.1" y="352.6" width="1.8" height="1.8" fill="#000"/>
<polyline points="64.8,426.3 65.8,426.1 66.7,425.9 67.7,425.9 68.6,424.2 69.6,424.8 70.8,425.6 72.0,425.9 73.2,424.4 74.4,425.8 75.6,425.4 76.8,424.9 78.0,425.8 79.2,424.5 80.4,424.3 81.6,425.5 82.8,424.7 84.0,423.9 85.1,423.7 86.2,423.9 87.3,422.7 88.4,423.8 88.6,423.1 88.8,421.5" fill="none" stroke="#000" stroke-width="3.8" stroke-linejoin="round"/>
<polyline points="88.8,421.5 89.0,420.2 89.1,419.0 89.3,417.9 89.5,416.6 89.6,415.3 89.8,413.8 90.0,412.8 90.1,411.2 90.3,409.9 90.4,408.5 90.5,407.5 90.6,406.0 90.6,404.9 90.7,403.8 90.8,402.7 90.9,401.4 91.0,399.8 91.1,398.5 91.2,397.4 91.2,396.3 91.3,395.2 91.4,393.9 91.5,392.8 91.6,391.3 91.7,390.1 91.7,388.6 91.8,387.4 91.9,386.1 92.0,385.0 92.1,383.8 92.2,382.5 92.4,381.2 92.5,380.0 92.6,378.6 92.8,377.7 92.9,376.3 93.0,375.1 93.1,373.9 93.2,372.4 93.4,371.0 93.5,369.9 93.6,369.0 93.8,367.7 93.9,366.2 94.0,365.2 94.2,363.6 94.4,362.6 94.5,360.9 94.7,359.9 94.9,358.8 95.1,357.2 95.3,355.9 95.4,354.4 95.6,353.2 95.8,351.8 96.1,350.6 96.5,349.2 96.8,348.0 97.2,346.6 97.5,345.6 98.2,344.3 98.9,343.0 100.3,343.9 101.8,344.0 103.2,343.9 104.7,343.9 105.2,345.1 105.7,346.5 106.2,347.5" fill="none" stroke="#000" stroke-width="2.8" stroke-linejoin="round"/>
<polyline points="106.2,347.5 106.5,348.9 106.8,350.5 107.1,351.8 108.1,352.3 109.0,351.4 110.0,353.0 111.0,352.4 111.9,353.4 112.9,354.1 113.8,355.1 114.8,353.1 115.8,352.7 116.7,352.8 117.7,352.0 118.3,353.4 119.0,353.8 119.6,356.1 120.6,353.6 121.5,354.4 122.5,353.1 123.5,351.9 124.5,352.7 125.4,351.0 126.3,350.8 127.3,350.5 128.3,350.7 129.2,351.2 130.2,351.5 131.2,353.5 132.3,351.8 133.4,351.8 134.5,352.3" fill="none" stroke="#000" stroke-width="3.0" stroke-linejoin="round"/>
<polyline points="134.5,352.3 135.5,352.4 136.5,354.7 137.4,355.1 138.4,355.6 139.4,355.8 140.4,356.6 141.4,354.6 142.5,356.6 143.5,356.0 144.6,357.6 145.6,357.1 146.6,357.8 147.7,358.1 148.7,358.5 149.8,359.5 150.8,360.3 151.8,358.9 152.9,360.3 153.9,360.8 154.9,359.8 155.9,359.3 157.0,360.6 158.0,361.5 159.0,361.1 160.1,360.5 161.1,362.1 162.1,361.2 163.2,362.8 164.2,361.0 165.3,362.2 166.3,361.8 167.3,363.4 168.4,361.3 169.4,363.3 170.5,362.2 171.5,362.2 172.5,361.7 173.6,362.5 174.6,363.6 175.7,363.8 176.7,363.6 177.7,362.8 178.8,361.8 179.8,362.5 180.9,362.9 181.9,362.0 182.9,363.6 184.0,361.1 185.0,361.3 186.1,361.0 187.1,360.8 188.1,360.3 189.2,360.6 190.2,360.8 191.3,362.1 192.3,360.9 193.3,360.9 194.4,359.9 195.4,359.2 196.5,359.9 197.5,360.1 198.5,358.2 199.6,359.4 200.6,358.0 201.7,359.0 202.7,357.8 203.8,357.0 204.8,356.6 205.9,358.0 207.0,357.0 208.1,355.5 209.2,357.3 210.2,355.3 211.3,355.6" fill="none" stroke="#000" stroke-width="4.2" stroke-linejoin="round"/>
<line x1="101" y1="344" x2="100.5" y2="356" stroke="#000" stroke-width="2"/>
<line x1="320.5" y1="29" x2="320.5" y2="202.1" stroke="#000" stroke-width="2"/>
<line x1="319.5" y1="201.1" x2="506.5" y2="201.1" stroke="#000" stroke-width="2"/>
<line x1="320.5" y1="29.8" x2="328.0" y2="29.8" stroke="#000" stroke-width="2"/>
<text x="310.7" y="32.5" text-anchor="end" class="tk">6.0</text>
<line x1="320.5" y1="47.4" x2="328.0" y2="47.4" stroke="#000" stroke-width="2"/>
<text x="310.7" y="50.1" text-anchor="end" class="tk">5.5</text>
<line x1="320.5" y1="65.5" x2="328.0" y2="65.5" stroke="#000" stroke-width="2"/>
<text x="310.7" y="68.2" text-anchor="end" class="tk">5.0</text>
<line x1="320.5" y1="85.5" x2="328.0" y2="85.5" stroke="#000" stroke-width="2"/>
<text x="310.7" y="88.2" text-anchor="end" class="tk">4.5</text>
<line x1="320.5" y1="103.4" x2="328.0" y2="103.4" stroke="#000" stroke-width="2"/>
<text x="310.7" y="106.1" text-anchor="end" class="tk">4.0</text>
<line x1="320.5" y1="121.2" x2="328.0" y2="121.2" stroke="#000" stroke-width="2"/>
<text x="310.7" y="123.9" text-anchor="end" class="tk">3.5</text>
<line x1="320.5" y1="138.9" x2="328.0" y2="138.9" stroke="#000" stroke-width="2"/>
<text x="310.7" y="141.6" text-anchor="end" class="tk">3.0</text>
<line x1="320.5" y1="156.4" x2="328.0" y2="156.4" stroke="#000" stroke-width="2"/>
<text x="310.7" y="159.1" text-anchor="end" class="tk">2.5</text>
<line x1="320.5" y1="173.9" x2="328.0" y2="173.9" stroke="#000" stroke-width="2"/>
<text x="310.7" y="176.6" text-anchor="end" class="tk">2.0</text>
<line x1="320.5" y1="191.4" x2="328.0" y2="191.4" stroke="#000" stroke-width="2"/>
<text x="310.7" y="194.1" text-anchor="end" class="tk">1.5</text>
<line x1="320.5" y1="38.6" x2="322.3" y2="38.6" stroke="#000" stroke-width="1.1"/>
<line x1="320.5" y1="56.5" x2="322.3" y2="56.5" stroke="#000" stroke-width="1.1"/>
<line x1="320.5" y1="75.5" x2="322.3" y2="75.5" stroke="#000" stroke-width="1.1"/>
<line x1="320.5" y1="94.5" x2="322.3" y2="94.5" stroke="#000" stroke-width="1.1"/>
<line x1="320.5" y1="112.3" x2="322.3" y2="112.3" stroke="#000" stroke-width="1.1"/>
<line x1="320.5" y1="130.1" x2="322.3" y2="130.1" stroke="#000" stroke-width="1.1"/>
<line x1="320.5" y1="147.7" x2="322.3" y2="147.7" stroke="#000" stroke-width="1.1"/>
<line x1="320.5" y1="165.2" x2="322.3" y2="165.2" stroke="#000" stroke-width="1.1"/>
<line x1="320.5" y1="182.7" x2="322.3" y2="182.7" stroke="#000" stroke-width="1.1"/>
<line x1="338.2" y1="195.1" x2="338.2" y2="201.1" stroke="#000" stroke-width="2"/>
<line x1="357.4" y1="197.79999999999998" x2="357.4" y2="201.1" stroke="#000" stroke-width="2"/>
<line x1="376.1" y1="195.1" x2="376.1" y2="201.1" stroke="#000" stroke-width="2"/>
<line x1="394.5" y1="197.79999999999998" x2="394.5" y2="201.1" stroke="#000" stroke-width="2"/>
<line x1="413.5" y1="195.1" x2="413.5" y2="201.1" stroke="#000" stroke-width="2"/>
<line x1="432.0" y1="197.79999999999998" x2="432.0" y2="201.1" stroke="#000" stroke-width="2"/>
<line x1="450.3" y1="195.1" x2="450.3" y2="201.1" stroke="#000" stroke-width="2"/>
<line x1="468.9" y1="197.79999999999998" x2="468.9" y2="201.1" stroke="#000" stroke-width="2"/>
<line x1="488.1" y1="195.1" x2="488.1" y2="201.1" stroke="#000" stroke-width="2"/>
<line x1="505.5" y1="197.79999999999998" x2="505.5" y2="201.1" stroke="#000" stroke-width="2"/>
<text x="338.6" y="212.7" text-anchor="middle" class="tk">0</text>
<text x="372.9" y="212.7" text-anchor="middle" class="tk">100</text>
<text x="411.7" y="212.7" text-anchor="middle" class="tk">200</text>
<text x="450.2" y="212.7" text-anchor="middle" class="tk">300</text>
<text x="485.7" y="212.7" text-anchor="middle" class="tk">400</text>
<text x="407.55" y="228.8" text-anchor="middle" class="tt">Time (sec)</text>
<text transform="translate(284.5,120.8) rotate(-90)" text-anchor="middle" class="rt">Ratio 340nm/380nm</text>
<text x="501.4" y="62.8" class="lg">T1</text>
<text x="500.2" y="97.7" class="pm">-/-</text>
<text x="500.0" y="128.5" class="pm">+/+</text>
<polyline points="339.2,187.0 340.7,186.4 342.1,185.8 343.6,185.4 345.1,187.1 346.5,186.0 348.0,186.0 349.6,185.3 351.3,184.5 352.9,185.0 354.6,184.3 356.2,184.4 357.3,183.0 358.4,182.3 359.5,180.2 360.7,178.3 361.8,177.2 362.9,177.6 363.8,174.9 364.8,175.0 365.8,173.6 366.7,171.0 367.0,171.3 367.3,167.8 367.6,168.4 367.9,166.8 368.2,163.7 368.7,163.4 369.1,161.8 369.6,158.6 370.0,158.5 370.4,155.5 370.7,156.1 371.1,153.9 371.5,153.1 371.8,149.2 372.1,148.3 372.4,147.5 372.7,145.9 373.0,143.2 373.4,143.6 373.9,142.0 374.3,139.1 374.7,137.3 375.3,136.9 375.9,134.5 376.5,133.4 377.6,131.6 378.7,129.9 380.0,130.1 381.3,131.5 382.6,133.5 384.0,134.2 385.5,133.4 386.9,134.2 388.3,133.7 390.2,134.6 392.0,134.0 393.9,133.1 395.2,132.1 396.6,131.3 397.9,130.7 399.2,132.3 400.6,131.7 401.9,130.9 403.3,128.6 404.7,129.5 406.1,127.6 407.5,129.0 409.1,127.8 410.7,127.3 412.3,126.3 413.9,125.2 415.3,126.5 416.8,126.9 418.2,125.2 419.7,125.9 421.1,126.8 422.6,126.8 424.0,126.3 425.5,126.5 427.0,128.1 428.5,126.4 430.1,126.4 431.6,127.8 433.1,126.9 434.6,128.7 436.0,127.5 437.5,129.3 438.9,128.1 440.3,129.6 441.7,129.5 443.1,129.7 444.6,128.5 446.0,128.6 447.5,128.5 448.9,129.1 450.4,130.6 451.9,129.2 453.3,129.9 454.8,130.9 456.2,130.1 457.7,130.8 459.1,130.2 460.5,131.1 461.9,129.4 463.2,131.4 464.6,130.0 466.0,130.1 467.6,129.3 469.2,128.8 470.7,129.6 472.3,129.1 473.9,128.5 475.3,126.2 476.7,127.4 478.1,128.1 479.5,127.0 481.0,126.5 482.4,126.6 483.8,125.1 485.2,126.2 486.6,125.4" fill="none" stroke="#1a1a1a" stroke-width="1.0" stroke-dasharray="2.2 1.3"/>
<polyline points="382.6,133.6 384.0,133.4 385.5,133.4 386.9,131.8 388.3,134.6 389.7,132.5 391.1,132.1 392.5,133.2 393.9,135.1 395.2,134.2 396.6,132.5 397.9,133.5 399.2,132.4 400.6,130.6 401.9,129.2 403.3,129.5 404.7,129.7 406.1,127.1 407.5,129.7 408.8,128.7 410.1,127.7 411.3,128.1 412.6,126.2 413.9,125.9 415.3,124.5 416.8,127.1 418.2,124.3 419.7,126.7 421.1,125.2 422.6,126.3 424.0,127.7 425.3,127.3 426.6,126.4 428.0,125.8 429.3,128.7 430.6,126.5 432.0,128.7 433.3,127.5 434.6,128.4 436.0,129.5 437.5,127.6 438.9,128.3 440.3,129.1 441.7,130.4 443.1,130.0 444.6,128.7 446.0,128.3 447.3,129.1 448.6,129.5 449.9,130.5 451.2,131.2 452.5,129.4 453.8,130.1 455.1,130.9 456.4,131.1 457.7,132.1 459.1,132.4 460.5,132.4 461.9,131.1 463.2,129.7 464.6,131.0 466.0,128.3 467.3,129.9 468.6,130.3 469.9,127.3 471.3,129.0 472.6,129.3 473.9,128.7 475.3,126.9 476.7,127.2 478.1,127.0 479.5,128.4 481.0,125.1 482.4,126.6 483.8,126.6 485.2,125.3 486.6,125.4" fill="none" stroke="#333" stroke-width="0.8" stroke-dasharray="1.6 2.2" opacity="0.85"/>
<line x1="392.8" y1="133.6" x2="392.8" y2="149.3" stroke="#222" stroke-width="1.3" stroke-dasharray="1.6 0.9"/>
<polyline points="339.3,186.5 340.6,186.0 342.0,184.3 343.3,184.0 344.6,183.3 345.8,183.8 347.0,183.5 348.2,183.6 349.4,182.0 350.6,182.1 351.8,181.0 353.0,180.8 354.2,180.8 355.5,179.4 356.8,179.0 358.1,179.0 359.1,177.6 360.0,175.8 361.0,175.1 361.5,174.3 361.9,171.8 362.4,171.9 362.9,170.5 363.5,168.6 364.2,167.0 364.8,167.0 365.0,164.8 365.2,163.1 365.4,161.9 365.6,161.8 365.7,160.2 365.9,159.3 366.1,157.9 366.3,156.3 366.5,155.8 366.7,153.6 366.8,152.6 367.0,151.8 367.2,150.2 367.3,149.3 367.5,147.6 367.7,146.6 367.8,144.3 368.0,143.3 368.2,142.2 368.3,140.6 368.5,139.6 368.6,138.1 368.6,137.1 368.7,136.5 368.8,134.8 368.8,133.5 368.9,132.0 369.0,130.9 369.0,130.7 369.1,129.0 369.2,127.7 369.2,125.7 369.3,125.4 369.4,123.2 369.4,122.3 369.5,122.1 369.6,120.3 369.6,118.9 369.7,117.8 369.8,116.8 369.8,115.5 369.9,113.4 369.9,111.8 370.0,111.0 370.1,109.7 370.1,108.4 370.2,108.3 370.4,106.9 370.6,104.7 370.8,103.9 370.9,102.2 371.1,101.7 371.3,99.6 372.1,98.0 372.8,96.6 373.6,95.8 374.2,96.6 374.7,98.4 375.2,100.2 375.8,100.6 376.2,101.9 376.6,104.7 377.0,105.4 377.9,105.9 378.9,106.9 379.8,108.2 380.7,109.9 381.7,111.1 382.6,111.5 384.3,111.2 386.0,111.9 387.7,112.9 389.4,112.1 390.2,111.7 391.1,110.4 391.9,107.9 392.8,108.0 393.9,107.3 395.1,106.5 396.2,105.5 397.4,105.6 398.5,104.2 399.4,103.8 400.3,102.9 401.2,102.8 402.1,101.8 403.0,99.9 403.9,99.5 404.8,98.2 405.7,98.6 406.6,97.7 407.5,96.0 408.7,96.0 410.0,95.4 411.2,94.1 412.7,94.9 414.3,94.2 415.8,94.3 416.8,94.6 417.9,94.4 418.9,95.6 419.9,95.7 421.0,97.8 422.0,98.4 423.3,98.5 424.7,97.9 426.0,97.7 427.3,99.3 428.6,99.6 430.0,98.4 431.3,99.3 432.5,98.7 433.7,99.9 434.9,100.0 436.1,99.1 437.4,99.7 438.6,99.9 439.8,99.5 441.0,100.6 442.2,100.0 443.4,99.8 444.6,100.4 445.8,100.8 447.1,100.1 448.3,100.4 449.5,101.6 450.7,101.1 451.9,100.9 453.2,100.9 454.6,100.1 455.9,100.1 457.3,100.1 458.6,100.3 460.0,99.6 461.3,99.3 462.6,98.8 463.9,99.5 465.3,98.6 466.6,99.4 467.9,99.1 469.2,97.6 470.5,97.7 471.7,98.2 473.0,97.3 474.2,97.0 475.5,98.1 476.7,97.3 478.0,97.0 479.2,97.3 480.4,97.1 481.6,95.9 482.9,95.6 484.1,96.0 485.3,95.8 486.5,95.7" fill="none" stroke="#000" stroke-width="2.3" stroke-dasharray="2 1.6"/>
<polyline points="407.5,96.3 408.7,96.1 410.0,95.9 411.2,94.7 412.7,94.4 414.3,93.6 415.8,95.1 416.8,93.7 417.9,93.8 418.9,94.7 419.9,96.7 421.0,98.5 422.0,97.9 423.3,96.4 424.7,97.3 426.0,97.0 427.3,98.0 428.6,98.3 430.0,100.5 431.3,99.2 432.5,100.5 433.7,100.6 434.9,98.2 436.1,98.3 437.4,101.3 438.6,98.0 439.8,99.7 441.0,101.1 442.2,99.2 443.4,101.2 444.6,101.7 445.8,101.7 447.1,99.8 448.3,99.8 449.5,100.2 450.7,99.2 451.9,99.3 453.2,99.9 454.6,99.5 455.9,101.4 457.3,99.7 458.6,98.6 460.0,99.3 461.3,98.4 462.6,97.8 463.9,99.6 465.3,98.1 466.6,97.9 467.9,97.4 469.2,98.7 470.5,99.2 471.7,99.5 473.0,99.3 474.2,96.6 475.5,97.8 476.7,96.4 478.0,95.7 479.2,96.8 480.4,98.2 481.6,95.9 482.9,96.3 484.1,97.0 485.3,94.4 486.5,95.7" fill="none" stroke="#000" stroke-width="2.0" stroke-dasharray="2 2.6"/>
<rect x="381.6" y="115.1" width="2" height="2" fill="#000"/>
<rect x="420.0" y="102.0" width="2" height="2" fill="#000"/>
<rect x="436.0" y="103.0" width="2" height="2" fill="#000"/>
<rect x="451.0" y="104.5" width="2" height="2" fill="#000"/>
<rect x="454.0" y="102.5" width="2" height="2" fill="#000"/>
<rect x="469.0" y="101.0" width="2" height="2" fill="#000"/>
<rect x="479.0" y="100.0" width="2" height="2" fill="#000"/>
<polyline points="339.3,171.2 340.6,170.5 342.0,170.9 343.3,170.1 344.6,170.2 345.8,170.1 347.0,170.0 348.2,169.4 349.4,169.2 350.6,168.5 351.8,168.7 353.0,168.4 354.2,168.7 355.4,168.1 356.6,168.1 357.8,167.5 359.0,167.0 360.4,166.7 361.9,165.7 362.1,163.8 362.4,162.1 362.6,161.1 362.9,159.6 363.1,158.7 363.2,157.3 363.4,156.0 363.6,154.9 363.8,153.5 363.9,151.9 364.1,150.8 364.3,150.4 364.4,149.1 364.5,147.3 364.6,146.6 364.7,145.0 364.8,143.4 364.9,142.9 365.0,141.3 365.1,140.4 365.2,138.9 365.3,137.1 365.4,136.4 365.4,135.3 365.5,134.1 365.6,132.3 365.7,131.3 365.8,130.2 365.9,128.4 366.0,127.8 366.0,126.5 366.1,124.6 366.2,123.8 366.3,122.4 366.4,120.9 366.5,120.1 366.5,119.2 366.6,117.6 366.7,115.9 366.8,115.0 366.8,114.1 366.9,113.1 366.9,111.6 367.0,109.7 367.0,109.5 367.1,107.9 367.1,106.2 367.2,105.0 367.2,103.8 367.2,103.2 367.3,101.5 367.3,100.9 367.4,99.0 367.4,98.2 367.5,96.9 367.5,95.3 367.5,94.1 367.6,93.8 367.6,92.7 367.7,90.6 367.7,90.0 367.8,89.1 367.8,87.8 367.9,86.6 367.9,85.0" fill="none" stroke="#000" stroke-width="2.0" stroke-linejoin="round"/>
<polyline points="367.9,85.0 368.0,83.8 368.1,83.1 368.2,82.9 368.4,80.2 368.5,79.3 368.6,77.8 368.7,77.0 368.8,75.7 368.9,75.1 369.1,75.0 369.2,75.3 369.3,73.5 369.7,71.5 370.1,70.4 370.5,70.0 371.2,68.2 372.0,66.7 372.7,67.9 373.9,68.1 375.0,67.5 375.3,68.4 375.6,69.6 375.9,72.9 376.1,71.7 376.4,74.1 376.7,76.1 377.0,74.7 377.3,76.7 378.1,76.1 378.9,76.5 379.4,75.6 379.9,76.8 380.4,77.8 381.0,78.4 381.5,81.0 382.0,82.4 382.8,82.2 383.5,81.9 384.2,84.5 385.0,85.3 386.2,85.5 387.4,85.0 388.5,86.7 389.7,86.5 390.6,85.7 391.6,84.9 392.5,83.4 392.8,83.0 393.1,82.9 393.4,81.6 393.6,79.7 393.9,80.0 394.2,79.1 394.5,76.0 394.8,75.3 395.1,74.5 395.5,73.0 395.8,73.9 396.1,72.7 396.4,71.5 396.8,71.7 397.1,69.0 397.8,67.9 398.6,66.9 399.3,66.7 400.1,67.0 400.8,65.5 401.6,63.2 402.1,63.2 402.6,61.4 403.1,62.0 403.5,59.8 404.0,59.0 404.5,59.4 405.0,59.0 405.5,57.5 405.9,55.8 406.4,55.8 406.8,53.9 407.3,52.3 408.1,52.3 409.0,52.6 409.9,51.8 410.7,49.9 411.6,50.8 412.5,50.1 413.4,47.9 414.3,48.9 415.3,46.6 416.4,45.6 417.4,46.2 418.4,47.6 419.5,47.5 420.5,47.8 421.5,48.2 422.6,48.1 423.6,48.7 424.6,48.7 425.6,48.9 426.6,49.7 427.4,48.3 428.1,49.8 428.9,52.5 429.7,52.7 430.5,52.0 431.2,53.7 432.0,55.0 432.8,56.5 433.9,54.8 435.0,57.3 435.9,57.5 436.9,56.6 437.8,57.8 438.8,59.0 439.7,57.9 440.6,59.6 441.6,59.7 442.5,58.9 443.6,59.8 444.6,60.6 445.6,60.3 446.7,62.8 447.8,61.4 448.8,61.8 449.8,63.0 450.9,63.0 451.9,62.7 452.9,62.9 454.0,63.6 455.0,64.9 456.1,62.9 457.1,65.2 458.2,65.5 459.3,65.0 460.4,65.4 461.4,64.5 462.5,66.2 463.6,65.5 464.6,65.1 465.7,64.4 466.8,63.6 467.9,64.6 468.9,64.6 470.0,62.5 471.1,63.1 472.1,63.5 473.1,62.4 474.2,62.0 475.2,61.9 476.3,61.2 477.3,61.3 478.4,61.8 479.4,61.9 480.4,62.1 481.5,61.0 482.5,60.3 483.5,62.3 484.5,61.4 485.5,61.3 486.5,61.2 487.5,60.6" fill="none" stroke="#000" stroke-width="2.2" stroke-linejoin="round"/>
<line x1="436.0" y1="54.6" x2="436.0" y2="58.4" stroke="#000" stroke-width="1.5"/>
<line x1="438.9" y1="56.8" x2="438.9" y2="59.5" stroke="#000" stroke-width="1.5"/>
<line x1="441.0" y1="57.8" x2="441.0" y2="61.9" stroke="#000" stroke-width="1.5"/>
<line x1="443.0" y1="58.2" x2="443.0" y2="63.3" stroke="#000" stroke-width="1.5"/>
<line x1="445.9" y1="60.2" x2="445.9" y2="64.9" stroke="#000" stroke-width="1.5"/>
<line x1="447.7" y1="58.9" x2="447.7" y2="65.3" stroke="#000" stroke-width="1.5"/>
<line x1="450.0" y1="60.1" x2="450.0" y2="66.3" stroke="#000" stroke-width="1.5"/>
<line x1="452.5" y1="62.1" x2="452.5" y2="65.7" stroke="#000" stroke-width="1.5"/>
<line x1="455.1" y1="62.6" x2="455.1" y2="67.2" stroke="#000" stroke-width="1.5"/>
<line x1="457.0" y1="61.9" x2="457.0" y2="65.4" stroke="#000" stroke-width="1.5"/>
<line x1="459.6" y1="62.6" x2="459.6" y2="67.9" stroke="#000" stroke-width="1.5"/>
<line x1="462.0" y1="62.7" x2="462.0" y2="66.3" stroke="#000" stroke-width="1.5"/>
<line x1="464.9" y1="61.6" x2="464.9" y2="65.8" stroke="#000" stroke-width="1.5"/>
<line x1="466.6" y1="61.5" x2="466.6" y2="68.3" stroke="#000" stroke-width="1.5"/>
<line x1="469.7" y1="61.2" x2="469.7" y2="67.7" stroke="#000" stroke-width="1.5"/>
<line x1="471.6" y1="61.3" x2="471.6" y2="65.1" stroke="#000" stroke-width="1.5"/>
<line x1="474.5" y1="60.8" x2="474.5" y2="66.1" stroke="#000" stroke-width="1.5"/>
<line x1="476.9" y1="59.7" x2="476.9" y2="64.5" stroke="#000" stroke-width="1.5"/>
<line x1="479.8" y1="58.7" x2="479.8" y2="62.9" stroke="#000" stroke-width="1.5"/>
<line x1="481.7" y1="59.4" x2="481.7" y2="62.6" stroke="#000" stroke-width="1.5"/>
<line x1="483.8" y1="59.3" x2="483.8" y2="65.1" stroke="#000" stroke-width="1.5"/>
<line x1="485.6" y1="59.6" x2="485.6" y2="64.8" stroke="#000" stroke-width="1.5"/>
<line x1="339.8" y1="171.1" x2="339.8" y2="176" stroke="#000" stroke-width="1.8"/>
<line x1="346" y1="169.9" x2="346" y2="173.5" stroke="#000" stroke-width="1.8"/>
<line x1="351" y1="168.9" x2="351" y2="172.5" stroke="#000" stroke-width="1.8"/>
<line x1="356" y1="167.9" x2="356" y2="171" stroke="#000" stroke-width="1.8"/>
<line x1="377.8" y1="76.5" x2="377.8" y2="86.4" stroke="#000" stroke-width="1.8"/>
<line x1="380.4" y1="78.4" x2="380.4" y2="84.7" stroke="#000" stroke-width="1.8"/>
<line x1="392.2" y1="84.3" x2="392.2" y2="108.8" stroke="#000" stroke-width="1.8"/>
<line x1="399.3" y1="67.1" x2="399.3" y2="80.7" stroke="#000" stroke-width="1.8"/>
<line x1="407.3" y1="53.6" x2="407.3" y2="69.4" stroke="#000" stroke-width="1.8"/>
<line x1="418.2" y1="46.6" x2="418.2" y2="55.4" stroke="#000" stroke-width="1.8"/>
<line x1="433.6" y1="55.7" x2="433.6" y2="67" stroke="#000" stroke-width="1.8"/>
<line x1="443.5" y1="60.4" x2="443.5" y2="76.9" stroke="#000" stroke-width="1.8"/>
<line x1="448.8" y1="62.5" x2="448.8" y2="70" stroke="#000" stroke-width="1.8"/>
<line x1="451.9" y1="63.1" x2="451.9" y2="86.3" stroke="#000" stroke-width="1.8"/>
<line x1="455.6" y1="63.9" x2="455.6" y2="69.4" stroke="#000" stroke-width="1.8"/>
<line x1="465.6" y1="64.5" x2="465.6" y2="76.9" stroke="#000" stroke-width="1.8"/>
<line x1="473.1" y1="63.2" x2="473.1" y2="75.6" stroke="#000" stroke-width="1.8"/>
<line x1="478.1" y1="62.2" x2="478.1" y2="75" stroke="#000" stroke-width="1.8"/>
<line x1="486.9" y1="60.7" x2="486.9" y2="70.6" stroke="#000" stroke-width="1.8"/>
<line x1="442.5" y1="60.0" x2="442.5" y2="56.9" stroke="#000" stroke-width="1.8"/>
<line x1="450" y1="62.8" x2="450" y2="60" stroke="#000" stroke-width="1.8"/>
<line x1="475.6" y1="62.6" x2="475.6" y2="60" stroke="#000" stroke-width="1.8"/>
<line x1="480" y1="61.8" x2="480" y2="56.3" stroke="#000" stroke-width="1.8"/>
<line x1="486.9" y1="60.7" x2="486.9" y2="56.9" stroke="#000" stroke-width="1.8"/>
<line x1="460" y1="64.6" x2="460" y2="69" stroke="#000" stroke-width="1.8"/>
<line x1="469" y1="64.0" x2="469" y2="68" stroke="#000" stroke-width="1.8"/>
<line x1="439" y1="58.3" x2="439" y2="64" stroke="#000" stroke-width="1.8"/>
<line x1="425" y1="48.9" x2="425" y2="53" stroke="#000" stroke-width="1.8"/>
<line x1="412" y1="49.6" x2="412" y2="53" stroke="#000" stroke-width="1.8"/>
<line x1="325.3" y1="261.5" x2="325.3" y2="433.4" stroke="#000" stroke-width="2"/>
<line x1="324.3" y1="432.4" x2="510.6" y2="432.4" stroke="#000" stroke-width="2"/>
<line x1="325.3" y1="262.4" x2="331.90000000000003" y2="262.4" stroke="#000" stroke-width="2"/>
<text x="314.4" y="265.9" text-anchor="end" class="tk">6.0</text>
<line x1="325.3" y1="280.2" x2="331.90000000000003" y2="280.2" stroke="#000" stroke-width="2"/>
<text x="314.4" y="283.7" text-anchor="end" class="tk">5.5</text>
<line x1="325.3" y1="297.8" x2="331.90000000000003" y2="297.8" stroke="#000" stroke-width="2"/>
<text x="314.4" y="301.3" text-anchor="end" class="tk">5.0</text>
<line x1="325.3" y1="317.7" x2="331.90000000000003" y2="317.7" stroke="#000" stroke-width="2"/>
<text x="314.4" y="321.2" text-anchor="end" class="tk">4.5</text>
<line x1="325.3" y1="335.5" x2="331.90000000000003" y2="335.5" stroke="#000" stroke-width="2"/>
<text x="314.4" y="339.0" text-anchor="end" class="tk">4.0</text>
<line x1="325.3" y1="353.3" x2="331.90000000000003" y2="353.3" stroke="#000" stroke-width="2"/>
<text x="314.4" y="356.8" text-anchor="end" class="tk">3.5</text>
<line x1="325.3" y1="370.9" x2="331.90000000000003" y2="370.9" stroke="#000" stroke-width="2"/>
<text x="314.4" y="374.4" text-anchor="end" class="tk">3.0</text>
<line x1="325.3" y1="388.5" x2="331.90000000000003" y2="388.5" stroke="#000" stroke-width="2"/>
<text x="314.4" y="392.0" text-anchor="end" class="tk">2.5</text>
<line x1="325.3" y1="406.4" x2="331.90000000000003" y2="406.4" stroke="#000" stroke-width="2"/>
<text x="314.4" y="409.9" text-anchor="end" class="tk">2.0</text>
<line x1="325.3" y1="423.6" x2="331.90000000000003" y2="423.6" stroke="#000" stroke-width="2"/>
<text x="314.4" y="427.1" text-anchor="end" class="tk">1.5</text>
<line x1="342.3" y1="426.4" x2="342.3" y2="432.4" stroke="#000" stroke-width="2"/>
<line x1="361.3" y1="429.09999999999997" x2="361.3" y2="432.4" stroke="#000" stroke-width="2"/>
<line x1="379.6" y1="426.4" x2="379.6" y2="432.4" stroke="#000" stroke-width="2"/>
<line x1="398.5" y1="429.09999999999997" x2="398.5" y2="432.4" stroke="#000" stroke-width="2"/>
<line x1="417.2" y1="426.4" x2="417.2" y2="432.4" stroke="#000" stroke-width="2"/>
<line x1="435.0" y1="429.09999999999997" x2="435.0" y2="432.4" stroke="#000" stroke-width="2"/>
<line x1="454.2" y1="426.4" x2="454.2" y2="432.4" stroke="#000" stroke-width="2"/>
<line x1="472.5" y1="429.09999999999997" x2="472.5" y2="432.4" stroke="#000" stroke-width="2"/>
<line x1="491.3" y1="426.4" x2="491.3" y2="432.4" stroke="#000" stroke-width="2"/>
<line x1="509.6" y1="429.09999999999997" x2="509.6" y2="432.4" stroke="#000" stroke-width="2"/>
<text x="342.4" y="444.7" text-anchor="middle" class="tk">0</text>
<text x="377.4" y="444.7" text-anchor="middle" class="tk">100</text>
<text x="415.7" y="444.7" text-anchor="middle" class="tk">200</text>
<text x="453.8" y="444.7" text-anchor="middle" class="tk">300</text>
<text x="489.2" y="444.7" text-anchor="middle" class="tk">400</text>
<text x="407.95" y="461.9" text-anchor="middle" class="tt">Time (sec)</text>
<text transform="translate(286.0,347.5) rotate(-90)" text-anchor="middle" class="rt">Ratio 340nm/380nm</text>
<text x="501.4" y="299.9" class="lg">T3</text>
<text x="500.6" y="335.0" class="pm">-/-</text>
<text x="500.4" y="362.6" class="pm">+/+</text>
<polyline points="344.7,418.5 346.3,417.5 347.9,417.8 349.4,416.5 351.0,417.8 352.6,416.0 354.1,416.4 355.6,417.1 357.2,415.3 358.7,416.4 360.3,415.4 361.8,414.6 363.4,414.4 364.9,413.9 365.6,412.1 366.4,412.5 367.1,409.8 367.8,410.1 368.4,408.4 369.0,404.9 369.5,404.2 370.1,403.4 370.7,402.9 371.1,399.7 371.5,399.3 371.8,397.1 372.2,396.7 372.6,395.5 373.1,393.4 373.6,390.3 374.0,390.1 374.5,387.5 374.7,387.1 374.8,384.7 375.0,384.4 375.2,383.1 375.4,381.3 375.5,379.8 375.7,378.3 376.1,376.1 376.6,373.4 377.1,373.9 377.5,370.9 378.2,368.5 379.0,368.4 379.7,367.1 380.8,365.2 382.0,365.9 383.1,362.4 384.6,365.0 386.1,364.7 387.6,364.3 389.1,364.5 390.6,364.6 392.1,363.5 393.6,365.4 395.2,365.3 396.7,366.4 398.1,365.5 399.5,365.0 400.9,365.1 402.3,364.5 403.7,363.3 405.1,362.7 406.6,362.2 408.0,362.5 409.5,362.0 411.0,361.0 412.5,360.3 414.0,357.8 415.5,358.4 417.0,357.2 418.5,358.1 420.0,357.7 421.5,357.5 423.1,358.1 424.6,356.2 426.2,357.4 427.7,356.8 429.2,356.2 430.8,358.5 432.4,356.4 433.9,357.8 435.4,358.3 437.0,358.7 438.5,360.0 440.1,359.2 441.6,360.3 443.1,359.0 444.7,359.8 446.2,359.2 447.8,360.8 449.3,360.7 450.9,362.0 452.4,360.6 454.0,361.9 455.4,363.4 456.8,361.2 458.2,363.2 459.6,363.5 461.0,363.8 462.4,363.6 463.9,363.1 465.4,363.9 467.0,361.7 468.5,362.4 470.0,361.9 471.4,361.8 472.9,360.9 474.3,359.4 475.7,361.1 477.1,359.5 478.6,360.5 480.0,360.8 481.4,360.0 482.9,358.8 484.3,359.7 485.7,358.2 487.1,357.8 488.6,358.2 490.0,357.8" fill="none" stroke="#1a1a1a" stroke-width="1.0" stroke-dasharray="2.2 1.3"/>
<polyline points="387.6,365.1 389.1,363.3 390.6,363.3 392.1,364.4 393.6,365.2 395.2,364.0 396.7,364.9 398.1,363.2 399.5,365.2 400.9,365.3 402.3,363.2 403.7,363.7 405.1,361.4 406.6,362.0 408.0,361.3 409.5,361.4 411.0,360.1 412.5,360.8 414.0,358.7 415.5,358.7 417.0,357.5 418.5,356.5 420.0,356.3 421.5,357.4 423.1,357.0 424.6,357.7 426.2,358.6 427.7,355.7 429.0,355.5 430.4,356.9 431.7,357.5 433.0,358.8 434.3,358.0 435.7,359.9 437.0,356.8 438.3,358.6 439.6,360.4 440.9,357.4 442.3,359.0 443.6,360.9 444.9,358.7 446.2,358.9 447.5,360.6 448.8,359.0 450.1,362.6 451.4,361.5 452.7,362.7 454.0,360.3 455.4,360.6 456.8,363.6 458.2,362.6 459.6,364.7 461.0,364.7 462.4,363.2 463.7,364.0 464.9,363.5 466.2,363.1 467.5,361.0 468.7,363.2 470.0,362.5 471.4,360.2 472.9,359.5 474.3,361.3 475.7,361.5 477.1,359.4 478.6,359.7 480.0,360.2 481.4,360.7 482.9,358.6 484.3,360.4 485.7,359.4 487.1,358.0 488.6,359.6 490.0,357.8" fill="none" stroke="#333" stroke-width="0.8" stroke-dasharray="1.6 2.2" opacity="0.85"/>
<line x1="397.2" y1="364.9" x2="397.2" y2="380.3" stroke="#222" stroke-width="1.3" stroke-dasharray="1.6 0.9"/>
<polyline points="343.8,417.5 344.9,417.8 346.1,415.8 347.2,416.4 348.4,415.6 349.5,415.8 350.8,414.6 352.1,415.1 353.4,413.6 354.6,414.6 355.9,413.4 357.2,412.7 358.4,412.6 359.5,412.6 360.7,411.3 361.8,411.5 363.0,410.5 364.0,409.8 364.9,409.1 365.9,408.4 366.9,407.0 367.8,406.4 368.4,404.6 369.1,404.0 369.7,402.7 370.0,401.4 370.3,400.1 370.6,398.2 370.9,397.0 371.2,396.0 371.4,394.0 371.6,391.9 371.9,391.1 372.1,389.6 372.4,387.7 372.7,386.3 373.0,385.1 373.3,384.6 373.6,383.4 373.6,381.9 373.7,380.4 373.7,378.5 373.8,377.3 373.8,377.1 373.9,375.7 373.9,374.4 374.0,372.7 374.0,371.4 374.1,370.3 374.1,369.0 374.2,368.6 374.2,366.9 374.3,366.1 374.3,364.7 374.4,363.7 374.4,362.8 374.5,361.7 374.5,359.4 374.5,359.5 374.6,358.1 374.6,356.8 374.7,354.9 374.7,354.5 374.8,353.0 374.8,350.8 374.9,350.3 374.9,349.3 374.9,347.9 375.0,346.9 375.0,345.0 375.1,344.0 375.1,341.8 375.2,341.5 375.2,339.4 375.3,339.0 375.4,337.9 375.4,335.6 375.5,333.8 375.6,332.4 375.7,331.7 376.6,330.0 377.5,329.9 378.2,330.8 379.0,331.7 379.7,333.1 380.1,333.4 380.5,335.0 381.0,335.5 381.4,337.5 382.2,339.0 382.9,339.0 383.7,341.0 384.8,342.5 386.0,342.4 387.1,343.1 388.5,343.5 389.9,344.6 391.3,343.4 392.7,344.5 393.6,342.6 394.6,342.2 395.5,341.3 396.4,340.1 397.2,338.0 398.0,337.4 398.9,335.9 400.6,336.6 402.3,335.4 403.4,334.2 404.6,333.6 405.7,332.1 406.8,331.8 407.9,332.0 409.1,330.9 410.2,330.1 411.5,330.6 412.7,328.8 414.0,329.0 415.4,328.4 416.7,327.8 418.1,327.6 419.4,327.1 420.8,327.1 422.0,327.1 423.3,326.6 424.5,327.4 425.8,327.3 427.0,328.2 428.3,327.3 429.5,328.3 430.8,329.5 432.1,328.5 433.3,329.9 434.6,330.6 435.9,330.4 437.3,329.7 438.6,331.1 440.0,330.5 441.3,331.1 442.7,331.8 444.0,331.2 445.3,331.4 446.6,331.5 447.9,332.1 449.2,332.0 450.5,333.2 451.8,333.7 453.1,332.8 454.4,333.5 455.7,333.8 457.1,333.7 458.4,332.8 459.7,333.1 461.0,333.3 462.4,332.9 463.8,333.6 465.1,333.4 466.5,333.3 467.9,331.9 469.3,331.6 470.6,332.4 472.0,332.2 473.3,331.5 474.6,331.3 476.0,332.0 477.3,331.8 478.7,330.4 480.0,330.4 481.2,331.1 482.5,330.4 483.8,329.7 485.0,330.7 486.2,329.4 487.5,328.7 488.8,329.0 490.0,328.9" fill="none" stroke="#000" stroke-width="2.3" stroke-dasharray="2 1.6"/>
<polyline points="420.8,326.6 422.0,328.3 423.3,326.6 424.5,326.0 425.8,328.8 427.0,328.5 428.3,328.3 429.5,329.6 430.8,329.2 432.1,327.6 433.3,330.4 434.6,330.3 435.9,331.4 437.3,329.6 438.6,332.2 440.0,331.6 441.3,330.4 442.7,331.4 444.0,330.0 445.3,331.2 446.6,332.9 447.9,331.8 449.2,332.1 450.5,334.3 451.8,334.5 453.1,334.1 454.4,333.2 455.7,334.4 457.1,334.6 458.4,331.9 459.7,331.9 461.0,331.6 462.4,331.9 463.8,332.6 465.1,332.2 466.5,331.6 467.9,333.6 469.3,331.5 470.6,333.1 472.0,331.1 473.3,332.7 474.6,331.6 476.0,332.0 477.3,331.9 478.7,330.6 480.0,331.5 481.2,330.2 482.5,331.9 483.8,329.3 485.0,331.5 486.2,329.3 487.5,330.4 488.8,327.7 490.0,328.9" fill="none" stroke="#000" stroke-width="2.0" stroke-dasharray="2 2.6"/>
<rect x="385.5" y="346.5" width="2" height="2" fill="#000"/>
<rect x="424.0" y="330.0" width="2" height="2" fill="#000"/>
<rect x="442.0" y="334.0" width="2" height="2" fill="#000"/>
<rect x="454.0" y="336.0" width="2" height="2" fill="#000"/>
<rect x="469.0" y="335.5" width="2" height="2" fill="#000"/>
<rect x="485.0" y="333.0" width="2" height="2" fill="#000"/>
<polyline points="343.8,406.4 344.9,406.4 346.1,406.7 347.2,405.8 348.4,406.0 349.5,406.2 350.7,405.3 351.8,405.5 353.0,405.3 354.1,405.3 355.3,403.8 356.5,403.8 357.6,404.9 358.8,404.4 359.9,403.4 361.1,404.0 362.3,403.1 363.5,403.4 364.7,403.5 365.9,403.2 367.3,403.1" fill="none" stroke="#000" stroke-width="3.2" stroke-linejoin="round"/>
<polyline points="367.3,403.1 367.5,401.6 367.6,400.8 367.8,399.0 368.0,398.1 368.1,396.9 368.3,395.5 368.5,394.0 368.6,392.7 368.8,391.6 369.0,390.5 369.2,389.0 369.4,387.7 369.6,386.3 369.9,385.1 370.1,384.0 370.3,382.5 370.5,381.3 370.7,380.1 370.8,378.8 370.9,377.2 370.9,376.1 371.0,375.1 371.1,373.8 371.1,372.7 371.2,371.0 371.3,369.8 371.4,368.8 371.5,367.6 371.5,366.1 371.6,365.2 371.7,363.7 371.7,362.4 371.8,361.4 371.9,359.8 371.9,359.0 372.0,357.4 372.1,356.2 372.1,354.8 372.2,353.7 372.3,352.7 372.3,351.1 372.4,350.0 372.4,348.7 372.5,347.4 372.5,346.0 372.6,345.1 372.6,343.7 372.7,342.5 372.8,341.3 372.8,339.8 372.9,338.9 372.9,337.7 372.9,336.1 373.0,335.2 373.1,333.9 373.2,332.4 373.2,331.1 373.3,329.8 373.4,328.7 373.5,327.5 373.6,326.2 373.7,325.0 373.8,323.8 373.8,322.3 373.9,321.1 374.0,320.0 374.1,318.8 374.2,317.4 374.2,316.2 374.3,315.5 374.4,314.1 374.5,312.9 374.5,311.5 374.6,310.3 374.7,309.3 374.8,308.0 374.8,306.8 374.9,305.2 375.0,304.4 375.8,303.2 376.6,302.4" fill="none" stroke="#000" stroke-width="2.4" stroke-linejoin="round"/>
<polyline points="376.6,302.4 377.9,303.8 379.1,301.7 380.4,303.2 380.8,304.0 381.2,306.6 381.6,305.9 382.0,307.2 383.0,307.4 384.0,306.5 385.0,307.8 385.8,308.5 386.6,308.8 387.3,307.6 388.1,311.2 389.1,309.4 390.1,309.2 391.0,308.6 392.0,308.1 392.9,310.2 393.9,309.0 394.9,309.4 395.8,312.7 396.6,309.7 397.4,309.0 398.1,308.7 398.9,309.4 399.7,307.0 400.5,305.2 401.2,305.1 402.0,304.2 402.7,302.8 403.5,304.7 404.0,303.2 404.5,300.3 405.1,299.6 405.6,300.8 406.1,298.9 406.6,297.1 407.3,296.8 407.9,297.2 408.6,294.2 409.2,294.7 409.9,292.1 410.5,292.7 411.2,291.2 412.0,290.7 412.8,290.1 413.5,289.5 414.3,290.1 415.2,287.9 416.1,286.2 417.1,288.1 418.0,287.7 418.9,286.8 420.1,284.8 421.2,284.6 422.4,285.4 423.6,282.9 424.4,282.1 425.1,282.7 425.9,281.1 426.6,281.1 427.2,281.0 427.9,284.3 428.5,283.7 429.1,284.1 429.8,284.8 430.4,285.5 431.1,288.0 431.8,289.1 432.4,290.1 433.1,291.5 434.2,290.4 435.3,289.6 436.3,289.5 437.4,288.5 438.5,289.1 439.3,290.3 440.1,292.2 440.9,292.2 441.7,291.6 442.5,293.7 443.5,293.8 444.5,295.8 445.5,296.6 446.5,296.5 447.4,297.1 448.3,296.9 449.2,296.9 450.1,298.9 451.0,299.3 451.9,299.1 453.0,300.6 454.1,300.7 455.1,300.8 456.2,299.4 457.3,302.4 458.4,300.3 459.5,301.1 460.5,301.4 461.6,302.1 462.7,304.2 463.6,304.3 464.5,303.6 465.4,304.3 466.4,305.4 467.4,303.6 468.4,302.7 469.4,303.9 470.4,302.6 471.4,302.4 472.5,304.0 473.5,305.0 474.6,302.4 475.6,303.9 476.7,302.2 477.7,303.8 478.8,302.2 479.9,301.6 481.0,301.3 482.0,300.3 483.1,299.9 484.2,301.0 485.3,300.7 486.4,299.4 487.4,299.0 488.5,299.7 489.6,299.6" fill="none" stroke="#000" stroke-width="2.6" stroke-linejoin="round"/>
<line x1="383.2" y1="307.1" x2="383.2" y2="317.4" stroke="#000" stroke-width="2"/>
<line x1="441.6" y1="292.7" x2="441.6" y2="302.3" stroke="#000" stroke-width="2"/>
</svg>
</body></html>
